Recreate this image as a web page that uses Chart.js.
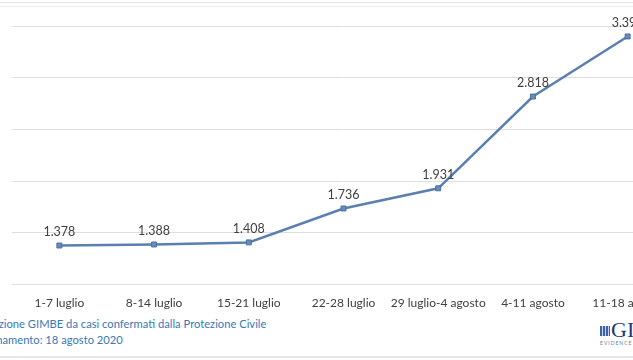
<!DOCTYPE html>
<html><head><meta charset="utf-8">
<script src="https://cdn.jsdelivr.net/npm/chart.js@4.4.0/dist/chart.umd.min.js"></script>
<style>
html,body{margin:0;padding:0;background:#fff;width:633px;height:360px;overflow:hidden;position:relative;font-family:Lato,"Open Sans",sans-serif;}
#wrap{position:absolute;left:0;top:0;width:680px;height:313px;}
.foot{position:absolute;left:-38px;color:#3a78b5;font-size:11.2px;font-family:Lato,sans-serif;white-space:nowrap;}
.hl{position:absolute;left:0;width:633px;height:1px;}
#logo{position:absolute;left:600px;top:320px;}
</style></head>
<body>
<div class="hl" style="top:2px;background:#e4e4e4"></div>
<div class="hl" style="top:6px;background:#f0f0f0"></div>
<div id="wrap"><canvas id="c"></canvas></div>
<div class="foot" style="top:317px">Elaborazione GIMBE da casi confermati dalla Protezione Civile</div>
<div class="foot" style="top:333px;left:-36px">Aggiornamento: 18 agosto 2020</div>
<div id="logo">
 <div style="position:absolute;left:0;top:6px;width:10px;height:10px;background:repeating-linear-gradient(90deg,#3d62a8 0 2px,#c9d6ee 2px 3px),#3d62a8;"></div>
 <div style="position:absolute;left:11px;top:-1px;font-family:'Liberation Serif',serif;font-size:22px;color:#1e3a78;line-height:22px;">GIMBE</div>
 <div style="position:absolute;left:0;top:20px;font-size:5px;color:#6a7a99;letter-spacing:1px;white-space:nowrap;">EVIDENCE FOR HEALTH</div>
</div>
<div class="hl" style="top:356px;background:#e6e6e6;height:2px"></div>
<script>
const categories = ["1-7 luglio","8-14 luglio","15-21 luglio","22-28 luglio","29 luglio-4 agosto","4-11 agosto","11-18 agosto"];
const cases = [1378,1388,1408,1736,1931,2818,3399];
const yMin = 1000, yMax = 3500, yStep = 500;

const labelPlugin = {
  id:'valueLabels',
  afterDatasetsDraw(chart){
    const ctx = chart.ctx;
    const meta = chart.getDatasetMeta(0);
    ctx.save();
    ctx.font = '12.5px Lato, "Open Sans", sans-serif';
    ctx.fillStyle = '#404040';
    ctx.textAlign = 'center';
    ctx.textBaseline = 'bottom';
    meta.data.forEach((pt,i)=>{
      ctx.fillText(cases[i].toLocaleString('it-IT'), pt.x, pt.y - 7);
    });
    ctx.restore();
  }
};

new Chart(document.getElementById('c'),{
  type:'line',
  data:{labels:categories,datasets:[{
    data:cases,
    borderColor:'#5b7fae',
    backgroundColor:'#5b7fae',
    borderWidth:2.5,
    pointStyle:'rect',
    pointRadius:3.5,
    pointBorderColor:'#4a6fa0',
    pointBackgroundColor:'#6a8cba',
    pointBorderWidth:1,
    tension:0
  }]},
  options:{
    responsive:true,maintainAspectRatio:false,animation:false,
    layout:{padding:{top:26,left:12,right:0,bottom:0}},
    plugins:{legend:{display:false},tooltip:{enabled:false}},
    scales:{
      x:{offset:true,grid:{display:false},border:{display:false},
         ticks:{color:'#404040',font:{family:'Lato',size:12},padding:3,maxRotation:0,autoSkip:false}},
      y:{min:yMin,max:yMax,ticks:{display:false,stepSize:yStep},
         grid:{color:'#dedede',lineWidth:1,drawTicks:false},border:{display:false}}
    }
  },
  plugins:[labelPlugin]
});
</script>
</body></html>
